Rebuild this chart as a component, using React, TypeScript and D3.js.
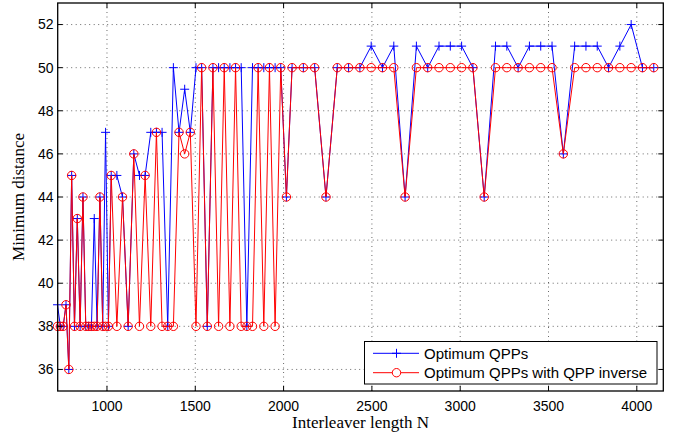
import * as React from "react";
import * as d3 from "d3";

// interleaver lengths N (LTE sizes)
const lengths = [
  720, 736, 752, 768, 784, 800, 816, 832, 848, 864, 880, 896, 912, 928, 944, 960, 976, 992, 1008, 1024,
  1056, 1088, 1120, 1152, 1184, 1216, 1248, 1280, 1312, 1344, 1376, 1408, 1440, 1472, 1504, 1536,
  1568, 1600, 1632, 1664, 1696, 1728, 1760, 1792, 1824, 1856, 1888, 1920, 1952, 1984, 2016, 2048,
  2112, 2176, 2240, 2304, 2368, 2432, 2496, 2560, 2624, 2688, 2752, 2816, 2880, 2944, 3008, 3072,
  3136, 3200, 3264, 3328, 3392, 3456, 3520, 3584, 3648, 3712, 3776, 3840, 3904, 3968, 4032, 4096,
];

const optimumQpp = [
  39, 38, 38, 39, 36, 45, 38, 43, 38, 44, 38, 38, 38, 43, 38, 44, 38, 47, 38, 45,
  45, 44, 38, 46, 45, 45, 47, 47, 47, 38, 50, 47, 49, 47, 50, 50,
  38, 50, 50, 50, 50, 50, 50, 38, 50, 50, 50, 50, 50, 50, 44, 50,
  50, 50, 44, 50, 50, 50, 51, 50, 51, 44, 51, 50, 51, 51, 51, 50,
  44, 51, 51, 50, 51, 51, 51, 46, 51, 51, 51, 50, 51, 52, 50, 50,
];

const optimumWithInverse = [
  38, 38, 38, 39, 36, 45, 38, 43, 38, 44, 38, 38, 38, 38, 38, 44, 38, 38, 38, 45,
  38, 44, 38, 46, 38, 45, 38, 47, 38, 38, 38, 47, 46, 47, 38, 50,
  38, 50, 38, 50, 38, 50, 38, 38, 38, 50, 38, 50, 38, 50, 44, 50,
  50, 50, 44, 50, 50, 50, 50, 50, 50, 44, 50, 50, 50, 50, 50, 50,
  44, 50, 50, 50, 50, 50, 50, 46, 50, 50, 50, 50, 50, 50, 50, 50,
];

const xTicks = [1000, 1500, 2000, 2500, 3000, 3500, 4000];
const yTicks = [36, 38, 40, 42, 44, 46, 48, 50, 52];
const legendLabels = ["Optimum QPPs", "Optimum QPPs with QPP inverse"];

const W = 683;
const H = 439;
const PLOT = { left: 57.7, right: 663.3, top: 3, bottom: 391 };
const SANS = "'Liberation Sans', Arial, sans-serif";
const SERIF = "'Liberation Serif', 'Times New Roman', serif";

export default function App() {
  const x = d3.scaleLinear().domain([721, 4150]).range([PLOT.left, PLOT.right]);
  const y = d3.scaleLinear().domain([35, 53]).range([PLOT.bottom, PLOT.top]);

  const line = d3
    .line<number>()
    .x((_, i) => x(lengths[i]))
    .y((d) => y(d));

  const tick = 5;

  return (
    <svg
      width={W}
      height={H}
      style={{ position: "absolute", left: 0, top: 0, background: "#fff" }}
    >
      <rect x={0} y={0} width={W} height={H} fill="#fff" />

      {/* grid */}
      <g stroke="#444" strokeWidth={0.8} strokeDasharray="1,3.5">
        {xTicks.map((t) => (
          <line key={`gx${t}`} x1={x(t)} x2={x(t)} y1={PLOT.top} y2={PLOT.bottom} />
        ))}
        {yTicks.map((t) => (
          <line key={`gy${t}`} x1={PLOT.left} x2={PLOT.right} y1={y(t)} y2={y(t)} />
        ))}
      </g>

      {/* series */}
      <path d={line(optimumQpp) ?? ""} fill="none" stroke="#0000ff" strokeWidth={1} />
      <g stroke="#0000ff" strokeWidth={1}>
        {optimumQpp.map((v, i) => (
          <g key={`b${i}`} transform={`translate(${x(lengths[i])},${y(v)})`}>
            <line x1={-4.5} x2={4.5} y1={0} y2={0} />
            <line x1={0} x2={0} y1={-4.5} y2={4.5} />
          </g>
        ))}
      </g>
      <path d={line(optimumWithInverse) ?? ""} fill="none" stroke="#ff0000" strokeWidth={1} />
      <g stroke="#ff0000" strokeWidth={1} fill="none">
        {optimumWithInverse.map((v, i) => (
          <circle key={`r${i}`} cx={x(lengths[i])} cy={y(v)} r={4.2} />
        ))}
      </g>

      {/* ticks */}
      <g stroke="#000" strokeWidth={1}>
        {xTicks.map((t) => (
          <g key={`tx${t}`}>
            <line x1={x(t)} x2={x(t)} y1={PLOT.bottom} y2={PLOT.bottom - tick} />
            <line x1={x(t)} x2={x(t)} y1={PLOT.top} y2={PLOT.top + tick} />
          </g>
        ))}
        {yTicks.map((t) => (
          <g key={`ty${t}`}>
            <line x1={PLOT.left} x2={PLOT.left + tick} y1={y(t)} y2={y(t)} />
            <line x1={PLOT.right} x2={PLOT.right - tick} y1={y(t)} y2={y(t)} />
          </g>
        ))}
      </g>
      <rect
        x={PLOT.left}
        y={PLOT.top}
        width={PLOT.right - PLOT.left}
        height={PLOT.bottom - PLOT.top}
        fill="none"
        stroke="#000"
        strokeWidth={1.3}
      />

      {/* tick labels */}
      <g fontFamily={SANS} fontSize={14} fill="#000">
        {xTicks.map((t) => (
          <text key={`lx${t}`} x={x(t)} y={411} textAnchor="middle">
            {t}
          </text>
        ))}
        {yTicks.map((t) => (
          <text key={`ly${t}`} x={53.5} y={y(t)} dy="0.35em" textAnchor="end">
            {t}
          </text>
        ))}
      </g>

      {/* axis titles */}
      <text
        x={(PLOT.left + PLOT.right) / 2}
        y={428}
        textAnchor="middle"
        fontFamily={SERIF}
        fontSize={17}
      >
        Interleaver length N
      </text>
      <text
        transform={`translate(24,${(PLOT.top + PLOT.bottom) / 2}) rotate(-90)`}
        textAnchor="middle"
        fontFamily={SERIF}
        fontSize={17}
      >
        Minimum distance
      </text>

      {/* legend */}
      <g>
        <rect x={364.5} y={341.5} width={292.5} height={42.5} fill="#fff" stroke="#000" strokeWidth={1} />
        <g transform="translate(0,353.3)">
          <line x1={373} x2={419} y1={0} y2={0} stroke="#0000ff" strokeWidth={1} />
          <line x1={392} x2={401} y1={0} y2={0} stroke="#0000ff" />
          <line x1={396.5} x2={396.5} y1={-4.5} y2={4.5} stroke="#0000ff" />
          <text x={424} y={0} dy="0.35em" fontFamily={SANS} fontSize={15}>
            {legendLabels[0]}
          </text>
        </g>
        <g transform="translate(0,372.7)">
          <line x1={373} x2={419} y1={0} y2={0} stroke="#ff0000" strokeWidth={1} />
          <circle cx={396.5} cy={0} r={4.2} fill="#fff" stroke="#ff0000" />
          <text x={424} y={0} dy="0.35em" fontFamily={SANS} fontSize={15}>
            {legendLabels[1]}
          </text>
        </g>
      </g>
    </svg>
  );
}
